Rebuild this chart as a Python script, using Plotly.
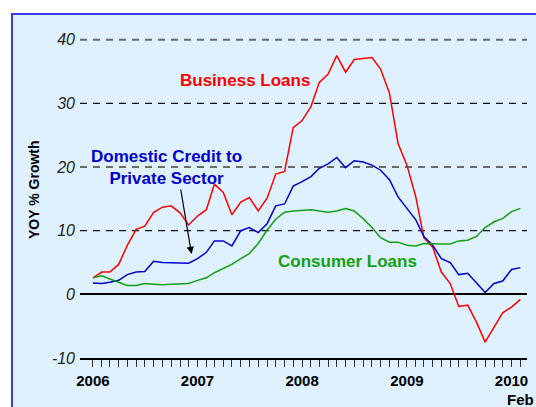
import pandas as pd
import plotly.graph_objects as go

# Monthly year-over-year growth rates, Jan 2006 - Feb 2010
months = pd.date_range("2006-01-01", periods=50, freq="MS")

business_loans = [2.6, 3.5, 3.5, 4.7, 7.7, 10.2, 10.7, 12.9, 13.7, 13.9, 12.8, 10.9,
                  12.3, 13.3, 17.3, 16.0, 12.5, 14.5, 15.2, 13.1, 15.1, 18.9, 19.3, 26.2,
                  27.3, 29.5, 33.3, 34.6, 37.5, 34.9, 36.9, 37.0, 37.2, 35.4, 31.6, 23.7,
                  20.3, 15.3, 8.9, 7.4, 3.5, 1.7, -1.9, -1.7, -4.4, -7.5, -5.1, -2.9,
                  -2.0, -0.8]

domestic_credit = [1.8, 1.7, 1.9, 2.2, 3.1, 3.5, 3.6, 5.2, 5.0, 5.0, 5.0, 4.9,
                   5.6, 6.6, 8.4, 8.4, 7.6, 10.0, 10.5, 9.7, 11.1, 13.9, 14.2, 17.0,
                   17.7, 18.5, 19.8, 20.5, 21.5, 19.9, 21.0, 20.8, 20.3, 19.5, 18.0, 15.3,
                   13.5, 11.7, 9.1, 7.7, 5.6, 5.0, 3.1, 3.3, 1.8, 0.3, 1.7, 2.1,
                   3.9, 4.2]

consumer_loans = [2.6, 2.9, 2.4, 1.9, 1.4, 1.4, 1.7, 1.6, 1.5, 1.6, 1.6, 1.7,
                  2.2, 2.6, 3.4, 4.1, 4.7, 5.6, 6.4, 8.0, 10.1, 11.8, 12.9, 13.1,
                  13.2, 13.3, 13.1, 12.9, 13.1, 13.5, 13.1, 11.9, 10.5, 8.9, 8.2, 8.2,
                  7.7, 7.6, 8.0, 7.9, 7.9, 7.9, 8.4, 8.5, 9.1, 10.5, 11.4, 11.9,
                  13.0, 13.5]

y_ticks = [-10, 0, 10, 20, 30, 40]
grid_levels = [10, 20, 30, 40]
year_labels = {2006: "2006", 2007: "2007", 2008: "2008", 2009: "2009", 2010: "2010"}

W, H = 536, 407
ML, MR, MT, MB = 80, 9, 27, 49
FONT = "Liberation Sans, Arial, sans-serif"

fig = go.Figure()
fig.add_trace(go.Scatter(x=months, y=business_loans, mode="lines",
                         line=dict(color="#ff0000", width=1.5), hoverinfo="skip"))
fig.add_trace(go.Scatter(x=months, y=domestic_credit, mode="lines",
                         line=dict(color="#0000cc", width=1.5), hoverinfo="skip"))
fig.add_trace(go.Scatter(x=months, y=consumer_loans, mode="lines",
                         line=dict(color="#12a012", width=1.5), hoverinfo="skip"))

# monthly ticks, year label on each January
tick_dates = pd.date_range("2006-01-01", "2010-02-01", freq="MS")
tick_text = [f"<b>{year_labels[d.year]}</b>" if d.month == 1 else "" for d in tick_dates]

pw = W - ML - MR
ph = H - MT - MB


def px_to_paper_x(px):
    return (px - ML) / pw


def px_to_paper_y(py):
    return (H - MB - py) / ph


# light blue panel with blue frame
fig.add_shape(type="rect", xref="paper", yref="paper",
              x0=px_to_paper_x(12), x1=px_to_paper_x(W + 10),
              y0=px_to_paper_y(H + 10), y1=px_to_paper_y(14),
              fillcolor="#dff0ff", line=dict(color="#3a3ae0", width=2), layer="below")

# dashed reference lines: alternate grey/heavy and black/light
for lvl in grid_levels:
    heavy = lvl in (20, 40)
    fig.add_shape(type="line", xref="paper", yref="y", x0=0, x1=1, y0=lvl, y1=lvl,
                  line=dict(color="#6a6a6a" if heavy else "#111111",
                            width=2 if heavy else 1.2, dash="7px,6px"),
                  layer="below")

fig.update_layout(
    width=W, height=H,
    margin=dict(l=ML, r=MR, t=MT, b=MB),
    paper_bgcolor="white",
    plot_bgcolor="rgba(0,0,0,0)",
    showlegend=False,
    font=dict(family=FONT, color="black"),
    xaxis=dict(
        range=["2005-11-17", "2010-02-24"],
        tickvals=tick_dates, ticktext=tick_text,
        ticks="outside", ticklen=7, tickwidth=1, tickcolor="#333333",
        showline=True, linecolor="black", linewidth=1.5,
        showgrid=False, zeroline=False,
        tickfont=dict(size=15, family=FONT, color="black"),
        ticklabelstandoff=1,
    ),
    yaxis=dict(
        range=[-10, 42],
        tickvals=y_ticks,
        ticktext=[f"<i>{v}</i>" for v in y_ticks],
        tickfont=dict(size=16, family=FONT, color="#222222"),
        showgrid=False,
        zeroline=True, zerolinecolor="black", zerolinewidth=2,
        showline=False, ticks="", ticklabelstandoff=4,
    ),
)

annotations = [
    dict(x=px_to_paper_x(34), y=px_to_paper_y(190), text="<b>YOY % Growth</b>",
         textangle=-90, font=dict(size=14, color="black")),
    dict(x=px_to_paper_x(245), y=px_to_paper_y(80), text="<b>Business Loans</b>",
         font=dict(size=17, color="#ff0000")),
    dict(x=px_to_paper_x(166), y=px_to_paper_y(167),
         text="<b>Domestic Credit to<br>Private Sector</b>",
         font=dict(size=17, color="#0000cc")),
    dict(x=px_to_paper_x(347), y=px_to_paper_y(261), text="<b>Consumer Loans</b>",
         font=dict(size=17, color="#12a012")),
    dict(x=px_to_paper_x(520), y=px_to_paper_y(399), text="<b>Feb</b>",
         font=dict(size=15, color="black")),
]
for a in annotations:
    a.update(xref="paper", yref="paper", showarrow=False, xanchor="center", yanchor="middle")
    fig.add_annotation(**a)

# pointer from the credit label to its series
fig.add_annotation(xref="paper", yref="paper",
                   x=px_to_paper_x(191.5), y=px_to_paper_y(254),
                   ax=180.5 - 191.5, ay=188 - 254, axref="pixel", ayref="pixel",
                   text="", showarrow=True,
                   arrowhead=2, arrowsize=1.2, arrowwidth=1.2, arrowcolor="black")

fig.write_html("out.html")
